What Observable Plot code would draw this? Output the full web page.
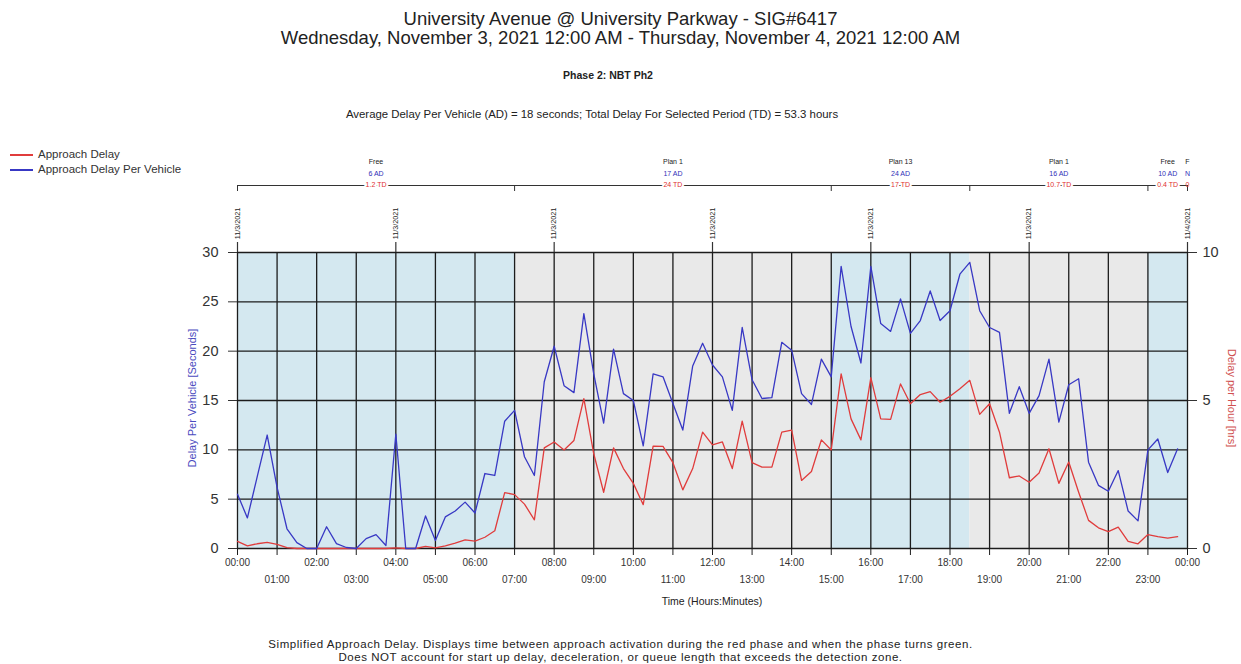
<!DOCTYPE html>
<html><head><meta charset="utf-8">
<script src="https://cdn.jsdelivr.net/npm/d3@7"></script>
<script src="https://cdn.jsdelivr.net/npm/@observablehq/plot@0.6"></script>
<style>
body{margin:0;background:#fff;font-family:"Liberation Sans",Arial,sans-serif;color:#222;}
#wrap{position:relative;width:1241px;height:664px;overflow:hidden;background:#fff;}
#wrap svg{position:absolute;left:0;top:0;}
.abs{position:absolute;white-space:nowrap;}
.ctr{left:0;width:1241px;text-align:center;}
.leg{position:absolute;left:10px;width:23px;height:0;border-top:2px solid;}
</style></head><body><div id="wrap"></div>
<script>
// ---- data ----
const approachDelayPerVehicle = [ // seconds, every 15 minutes from 00:00
  5.5, 3.1, 7.3, 11.5,  6.2, 2.0, 0.6, 0,  0, 2.2, 0.5, 0.1,  0, 1.0, 1.4, 0.3,
  11.6, 0, 0, 3.3,  0.8, 3.2, 3.8, 4.7,  3.6, 7.6, 7.4, 12.9,  14.0, 9.3, 7.4, 16.9,
  20.5, 16.5, 15.8, 23.8,  17.7, 12.7, 20.2, 15.7,  15.0, 10.4, 17.7, 17.4,  14.7, 12.0, 18.5, 20.8,
  18.6, 17.4, 14.0, 22.4,  17.1, 15.2, 15.3, 20.9,  20.1, 15.7, 14.6, 19.2,  17.4, 28.6, 22.5, 18.8,
  28.6, 22.8, 22.0, 25.3,  21.8, 23.1, 26.1, 23.1,  24.1, 27.8, 29.0, 24.1,  22.4, 21.9, 13.7, 16.4,
  13.7, 15.5, 19.2, 12.8,  16.6, 17.2, 8.75, 6.4,  5.8, 7.9, 3.8, 2.8,  10.0, 11.1, 7.7, 10.1
];
const approachDelayHours = [ // hours, every 15 minutes from 00:00
  0.24, 0.09, 0.16, 0.21,  0.14, 0.03, 0, 0,  0, 0, 0, 0,  0, 0, 0, 0,
  0.02, 0, 0, 0.07,  0.02, 0.09, 0.18, 0.29,  0.25, 0.38, 0.6, 1.89,  1.82, 1.5, 0.97, 3.4,
  3.6, 3.33, 3.65, 5.06,  3.2, 1.9, 3.4, 2.7,  2.2, 1.48, 3.46, 3.45,  2.9, 1.98, 2.7, 3.93,
  3.5, 3.6, 2.7, 4.3,  2.9, 2.75, 2.75, 3.93,  4.0, 2.3, 2.6, 3.67,  3.33, 5.9, 4.38, 3.67,
  5.77, 4.38, 4.36, 5.56,  4.89, 5.2, 5.3, 4.94,  5.14, 5.4, 5.68, 4.53,  4.89, 3.93, 2.39, 2.45,
  2.24, 2.55, 3.37, 2.2,  2.92, 1.9, 0.95, 0.7,  0.57, 0.72, 0.24, 0.16,  0.47, 0.4, 0.35, 0.4
];
const planNames = ["Free", "Plan 1", "Plan 13", "Plan 1", "Free"];
const planStartHour = [0, 7, 15, 18.5, 23];
const planEndHour = [7, 15, 18.5, 23, 24];
const planAD = ["6 AD", "17 AD", "24 AD", "16 AD", "10 AD"];
const planTD = ["1.2 TD", "24 TD", "17 TD", "10.7 TD", "0.4 TD"];
const planShade = ["free", "plan", "free", "plan", "free"];
const endStub = ["F", "N", "0"];
const dateTickHours = [0, 4, 8, 12, 16, 20, 24];
const dateTickLabels = ["11/3/2021", "11/3/2021", "11/3/2021", "11/3/2021", "11/3/2021", "11/3/2021", "11/4/2021"];
const leftTicks = [0, 5, 10, 15, 20, 25, 30];
const rightTicks = [0, 5, 10];

// ---- layout ----
const W = 1241, H = 664, ML = 237, MR = 54, MT = 252, MB = 116;
const t0 = new Date(Date.UTC(2021, 10, 3, 0, 0));
const t1 = new Date(Date.UTC(2021, 10, 4, 0, 0));
const hr = h => new Date(t0.getTime() + h * 3600e3);
const yAt = px => 30 * (H - MB - px) / (H - MB - MT); // page px -> y value in top margin
const BLUE = "#3838c4", RED = "#e03c3c";
const shadeColor = {free: "#d4e8f0", plan: "#e9e9e9"};

const rows = approachDelayPerVehicle.map((v, i) => ({t: hr(i / 4), apv: v, ad: approachDelayHours[i]}));
const plans = planNames.map((n, i) => ({name: n, s: planStartHour[i], e: planEndHour[i], ad: planAD[i], td: planTD[i], shade: planShade[i]}));
const hours = d3.range(0, 25).map(hr);
const evenHours = d3.range(0, 25, 2).map(hr);
const oddHours = d3.range(1, 24, 2).map(hr);
const dateTicks = dateTickHours.map((h, i) => ({t: hr(h), label: dateTickLabels[i]}));
const boundaries = [...planStartHour, 24].map(hr);
const fmt = d3.utcFormat("%H:%M");
const GRID = "#1c1c1c";

const chart = Plot.plot({
  width: W, height: H,
  marginLeft: ML, marginRight: MR, marginTop: MT, marginBottom: MB,
  x: {type: "utc", domain: [t0, t1]},
  y: {domain: [0, 30]},
  style: {fontFamily: "'Liberation Sans', Arial, sans-serif", background: "transparent", overflow: "visible", color: "#333"},
  marks: [
    Plot.rect(plans, {x1: d => hr(d.s), x2: d => hr(d.e), y1: () => 0, y2: () => 30, fill: d => shadeColor[d.shade]}),
    Plot.gridX(hours, {stroke: GRID, strokeOpacity: 1, strokeWidth: 1.3}),
    Plot.gridY(leftTicks, {stroke: GRID, strokeOpacity: 1, strokeWidth: 1.3}),
    Plot.axisX(evenHours, {tickSize: 7, tickPadding: 3, fontSize: 10, tickFormat: fmt, label: null, stroke: GRID, color: "#333"}),
    Plot.axisX(oddHours, {tickSize: 7, tickPadding: 20, fontSize: 10, tickFormat: fmt, label: null, stroke: GRID, color: "#333"}),
    Plot.axisY(leftTicks, {anchor: "left", tickSize: 9, tickPadding: 10, fontSize: 14.5, label: null, color: "#333"}),
    Plot.axisY(rightTicks.map(v => v * 3), {anchor: "right", tickSize: 9, tickPadding: 6, fontSize: 14.5, tickFormat: d => d / 3, label: null, color: "#333"}),
    Plot.line(rows, {x: "t", y: d => d.ad * 3, stroke: RED, strokeWidth: 1.3}),
    Plot.line(rows, {x: "t", y: "apv", stroke: BLUE, strokeWidth: 1.3}),
    // plan timeline
    Plot.ruleY([yAt(185)], {x1: () => t0, x2: () => t1, stroke: "#333", strokeWidth: 1}),
    Plot.ruleX(boundaries, {y1: () => yAt(185), y2: () => yAt(191), stroke: "#333", strokeWidth: 1}),
    Plot.text(plans, {x: d => hr((d.s + d.e) / 2), y: () => yAt(161), text: "name", fontSize: 7, fill: "#222"}),
    Plot.text(plans, {x: d => hr((d.s + d.e) / 2), y: () => yAt(173), text: "ad", fontSize: 7, fill: "#3030b8"}),
    Plot.text(plans, {x: d => hr((d.s + d.e) / 2), y: () => yAt(184), text: "td", fontSize: 7, fill: "#e03030", stroke: "white", strokeWidth: 4}),
    Plot.text(endStub, {x: () => t1, y: (d, i) => yAt([161, 173, 184][i]), text: d => d, fontSize: 7, fill: (d, i) => ["#222", "#3030b8", "#e03030"][i], textAnchor: "middle"}),
    // date markers
    Plot.text(dateTicks, {x: "t", y: () => yAt(223), text: "label", rotate: -90, fontSize: 7.2, fill: "#222"}),
    Plot.ruleX(dateTicks, {x: "t", y1: () => yAt(242), y2: () => 30, stroke: "#333", strokeWidth: 1.2})
  ]
});

const wrap = document.getElementById("wrap");
wrap.appendChild(chart);

const html = `
<div class="abs ctr" style="top:9px;font-size:18.5px;line-height:19px;">University Avenue @ University Parkway - SIG#6417<br>Wednesday, November 3, 2021 12:00 AM - Thursday, November 4, 2021 12:00 AM</div>
<div class="abs" style="left:508px;width:200px;text-align:center;top:69px;font-size:10.5px;font-weight:bold;">Phase 2: NBT Ph2</div>
<div class="abs" style="left:292px;width:600px;text-align:center;top:108px;font-size:11.4px;">Average Delay Per Vehicle (AD) = 18 seconds; Total Delay For Selected Period (TD) = 53.3 hours</div>
<div class="leg" style="top:154px;border-color:${RED};"></div>
<div class="abs" style="left:38px;top:148px;font-size:11.5px;color:#333;">Approach Delay</div>
<div class="leg" style="top:169px;border-color:${BLUE};"></div>
<div class="abs" style="left:38px;top:163px;font-size:11.5px;color:#333;">Approach Delay Per Vehicle</div>
<div class="abs" style="left:92px;top:392px;width:200px;text-align:center;font-size:11px;color:#4a4ac0;transform:rotate(-90deg);">Delay Per Vehicle [Seconds]</div>
<div class="abs" style="left:1132px;top:392px;width:200px;text-align:center;font-size:11px;color:#d05050;transform:rotate(90deg);">Delay per Hour [hrs]</div>
<div class="abs" style="left:612px;top:595px;width:200px;text-align:center;font-size:10.5px;color:#222;">Time (Hours:Minutes)</div>
<div class="abs ctr" style="top:638px;font-size:11.5px;line-height:13px;letter-spacing:0.55px;color:#222;">Simplified Approach Delay. Displays time between approach activation during the red phase and when the phase turns green.<br>Does NOT account for start up delay, deceleration, or queue length that exceeds the detection zone.</div>
`;
wrap.insertAdjacentHTML("beforeend", html);
</script>
</body></html>
